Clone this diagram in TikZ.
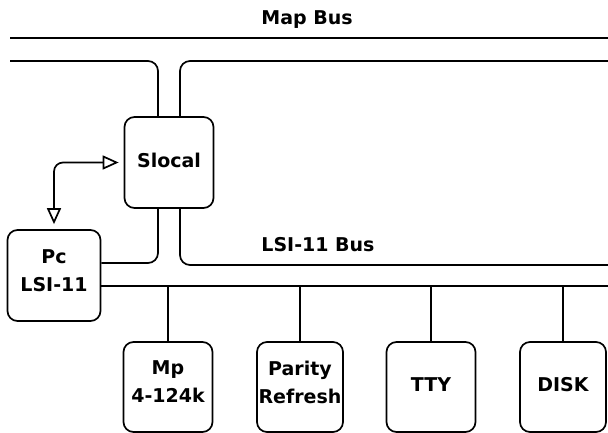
\documentclass[tikz,border=0pt]{standalone}
\usepackage{fontspec}
\setmainfont{DejaVu Sans}
\usetikzlibrary{arrows.meta}
\begin{document}
\begin{tikzpicture}[x=1pt,y=-1pt, line width=1.7pt, line join=round,
  box/.style={draw, rounded corners=10pt, inner sep=0pt, minimum height=90pt},
  lbl/.style={font=\bfseries\fontsize{19}{28}\selectfont, align=center, inner sep=0pt},
  bus/.style={rounded corners=10pt},
  oa/.style={{Triangle[open,length=16pt,width=14pt]}-{Triangle[open,length=16pt,width=14pt]},
             rounded corners=9pt, shorten >=5pt, shorten <=5pt}]
\useasboundingbox (0,0) rectangle (608,433);

% boxes
\node[box, minimum width=89pt, minimum height=91pt,
      label={[name=slocaltxt, lbl, yshift=2pt]center:Slocal}] (slocal) at (169,162.5) {};
\node[box, minimum width=93pt, minimum height=91pt,
      label={[name=pctxt, lbl, yshift=5pt]center:Pc\\LSI-11}] (pc) at (54,275.5) {};
\node[box, minimum width=89pt,
      label={[name=mptxt, lbl, yshift=5pt]center:Mp\\4-124k}] (mp) at (168,387) {};
\node[box, minimum width=86pt,
      label={[name=paritytxt, lbl, yshift=5pt]center:Parity\\Refresh}] (parity) at (300,387) {};
\node[box, minimum width=89pt,
      label={[name=ttytxt, lbl, yshift=2pt]center:TTY}] (tty) at (431,387) {};
\node[box, minimum width=86pt,
      label={[name=disktxt, lbl, yshift=2pt]center:DISK}] (disk) at (563,387) {};

% bus labels
\node[lbl, anchor=base] (maplbl) at (307,25) {Map Bus};
\node[lbl, anchor=base] (lsilbl) at (318,251) {LSI-11 Bus};

% Map bus
\coordinate (mapL1) at (10,38);
\coordinate (mapR1) at (608,38);
\coordinate (mapL2) at (10,61);
\coordinate (mapR2) at (608,61);
\draw (mapL1) -- (mapR1);
\draw[bus] (mapL2) -| ([xshift=-11pt]slocal.north);
\draw[bus] ([xshift=11pt]slocal.north) |- (mapR2);

% LSI-11 bus
\coordinate (lsiR1) at (608,265);
\coordinate (lsiR2) at (608,286);
\draw[bus] ([yshift=12.5pt]pc.east) -| ([xshift=-11pt]slocal.south);
\draw[bus] ([xshift=11pt]slocal.south) |- (lsiR1);
\draw ([yshift=-10.5pt]pc.east) -- (lsiR2);

% drops to devices
\draw (mp.north |- lsiR2) -- (mp.north);
\draw (parity.north |- lsiR2) -- (parity.north);
\draw (tty.north |- lsiR2) -- (tty.north);
\draw (disk.north |- lsiR2) -- (disk.north);

% Pc <-> Slocal
\draw[oa] (pc.north) |- (slocal.west);
\end{tikzpicture}
\end{document}
